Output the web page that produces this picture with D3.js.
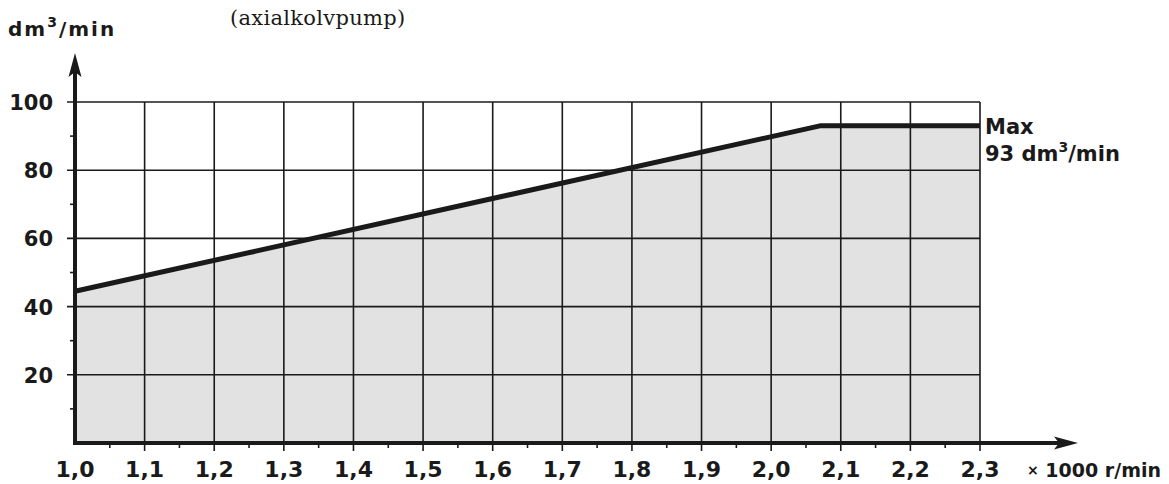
<!DOCTYPE html>
<html>
<head>
<meta charset="utf-8">
<script src="https://cdn.jsdelivr.net/npm/d3@7"></script>
<style>
  body { margin: 0; background: #fff; }
  text { font-family: "DejaVu Sans", "Liberation Sans", Arial, sans-serif; fill: #1a1a1a; }
</style>
</head>
<body>
<div id="chart"></div>
<script>
// data
const rpm = [1.0, 2.07, 2.3];          // x 1000 r/min
const flow = [44.5, 93, 93];           // dm3/min
const xTicks = [1.0, 1.1, 1.2, 1.3, 1.4, 1.5, 1.6, 1.7, 1.8, 1.9, 2.0, 2.1, 2.2, 2.3];
const yTicks = [20, 40, 60, 80, 100];
const xMinor = [1.05, 1.15, 1.25, 1.35, 1.45, 1.55, 1.65, 1.75, 1.85, 1.95, 2.05, 2.15, 2.25];
const yMinor = [10, 30, 50, 70, 90];

const W = 1169, H = 484;
const margin = { top: 102, right: 189, bottom: 41, left: 75 };
const width = W - margin.left - margin.right;
const height = H - margin.top - margin.bottom;
const ink = "#1a1a1a";

const svg = d3.select("#chart").append("svg")
    .attr("width", W).attr("height", H);
const g = svg.append("g")
    .attr("transform", `translate(${margin.left},${margin.top})`);

const x = d3.scaleLinear().domain([1.0, 2.3]).range([0, width]);
const y = d3.scaleLinear().domain([0, 100]).range([height, 0]);

const pts = rpm.map((r, i) => ({ r, f: flow[i] }));

// grey area under curve
g.append("path")
    .datum(pts)
    .attr("fill", "#e2e2e2")
    .attr("d", d3.area().x(d => x(d.r)).y0(y(0)).y1(d => y(d.f)));

// grid
g.selectAll(".vgrid").data(xTicks.slice(1)).enter().append("line")
    .attr("x1", d => x(d)).attr("x2", d => x(d))
    .attr("y1", y(100)).attr("y2", y(0) + 8)
    .attr("stroke", ink).attr("stroke-width", 1.6);
g.selectAll(".hgrid").data(yTicks).enter().append("line")
    .attr("x1", -8).attr("x2", x(2.3))
    .attr("y1", d => y(d)).attr("y2", d => y(d))
    .attr("stroke", ink).attr("stroke-width", 1.6);

// minor ticks
g.selectAll(".xminor").data(xMinor).enter().append("line")
    .attr("x1", d => x(d)).attr("x2", d => x(d))
    .attr("y1", y(0)).attr("y2", y(0) + 5)
    .attr("stroke", ink).attr("stroke-width", 1.6);
g.selectAll(".yminor").data(yMinor).enter().append("line")
    .attr("x1", -5).attr("x2", 0)
    .attr("y1", d => y(d)).attr("y2", d => y(d))
    .attr("stroke", ink).attr("stroke-width", 1.6);

// the curve
g.append("path")
    .datum(pts)
    .attr("fill", "none")
    .attr("stroke", ink)
    .attr("stroke-width", 5)
    .attr("stroke-linejoin", "round")
    .attr("d", d3.line().x(d => x(d.r)).y(d => y(d.f)));

// axes with arrow heads
const yTip = -49, xTip = 1003;
g.append("line")
    .attr("x1", 0).attr("x2", 0).attr("y1", y(0) + 2).attr("y2", yTip + 10)
    .attr("stroke", ink).attr("stroke-width", 4);
g.append("path")
    .attr("d", `M0,${yTip} L6.5,${yTip + 24} L0,${yTip + 19} L-6.5,${yTip + 24} Z`)
    .attr("fill", ink);
g.append("line")
    .attr("x1", -2).attr("x2", xTip - 10).attr("y1", y(0)).attr("y2", y(0))
    .attr("stroke", ink).attr("stroke-width", 4);
g.append("path")
    .attr("d", `M${xTip},${y(0)} L${xTip - 24},${y(0) - 6.5} L${xTip - 19},${y(0)} L${xTip - 24},${y(0) + 6.5} Z`)
    .attr("fill", ink);

// tick labels
g.selectAll(".xlab").data(xTicks).enter().append("text")
    .attr("x", d => x(d)).attr("y", y(0) + 34)
    .attr("text-anchor", "middle")
    .style("font-size", "22px").style("font-weight", "bold")
    .text(d => d.toFixed(1).replace(".", ","));
g.selectAll(".ylab").data(yTicks).enter().append("text")
    .attr("x", -22).attr("y", d => y(d) + 8)
    .attr("text-anchor", "end")
    .style("font-size", "21px").style("font-weight", "bold")
    .text(d => d);

// unit labels
const yl = svg.append("text")
    .attr("x", 8).attr("y", 36)
    .style("font-size", "20px").style("font-weight", "bold")
    .style("letter-spacing", "2px");
yl.append("tspan").text("dm");
yl.append("tspan").attr("dy", -9).style("font-size", "14px").text("3");
yl.append("tspan").attr("dy", 9).text("/min");

svg.append("text")
    .attr("x", 230).attr("y", 25)
    .style("font-family", "'DejaVu Serif', serif")
    .style("font-size", "21px")
    .style("letter-spacing", "0.3px")
    .text("(axialkolvpump)");

const xl = svg.append("text")
    .attr("x", 1027).attr("y", margin.top + height + 34)
    .style("font-size", "19px").style("font-weight", "bold");
xl.append("tspan").style("font-size", "14px").attr("dy", -2).text("×");
xl.append("tspan").attr("dy", 2).text(" 1000 r/min");

// max annotation
svg.append("text")
    .attr("x", 985).attr("y", margin.top + y(93) + 8)
    .style("font-size", "21px").style("font-weight", "bold")
    .text("Max");
const ml = svg.append("text")
    .attr("x", 985).attr("y", margin.top + y(93) + 35)
    .style("font-size", "21px").style("font-weight", "bold");
ml.append("tspan").text("93 dm");
ml.append("tspan").attr("dy", -9).style("font-size", "14px").text("3");
ml.append("tspan").attr("dy", 9).text("/min");
</script>
</body>
</html>
